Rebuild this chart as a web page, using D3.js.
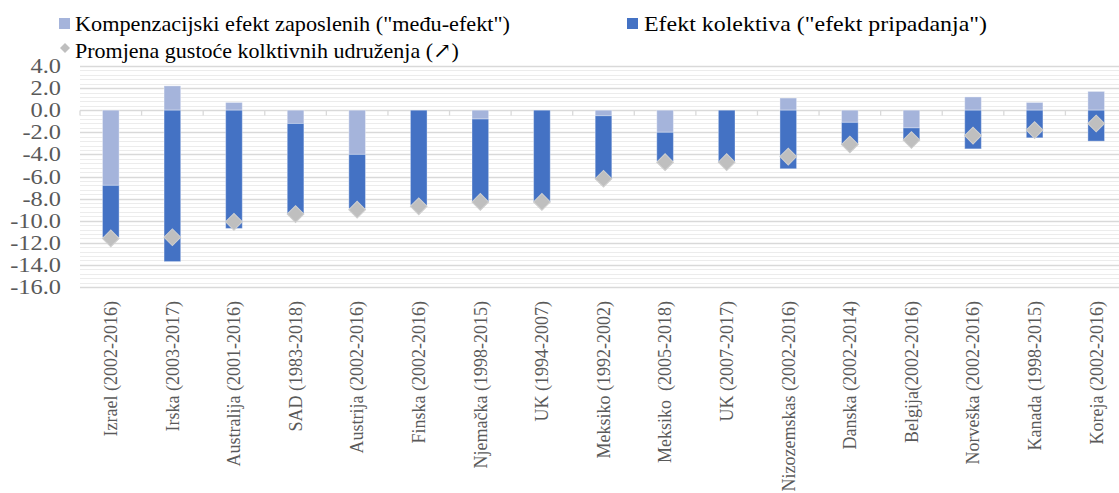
<!DOCTYPE html>
<meta charset="utf-8">
<style>
  body { margin: 0; background: #fff; }
</style>
<script src="https://d3js.org/d3.v7.min.js"></script>
<body>
<script>

var width = 1119,
    height = 493,
    fontFam = "'Liberation Serif', 'Times New Roman', Tinos, 'DejaVu Serif', serif";

// categories (x axis)
var categories = ["Izrael (2002-2016)", "Irska (2003-2017)", "Australija (2001-2016)", "SAD (1983-2018)",
  "Austrija (2002-2016)", "Finska (2002-2016)", "Njemačka (1998-2015)", "UK (1994-2007)",
  "Meksiko (1992-2002)", "Meksiko  (2005-2018)", "UK (2007-2017)", "Nizozemskas (2002-2016)",
  "Danska (2002-2014)", "Belgija(2002-2016)", "Norveška (2002-2016)", "Kanada (1998-2015)", "Koreja (2002-2016)"];

// light bars: "među-efekt"
var betweenEffect = [-6.8, 2.2, 0.7, -1.2, -4.0, 0.0, -0.8, 0.0, -0.5, -2.0, 0.0, 1.1, -1.1, -1.6, 1.2, 0.7, 1.7];
// dark bars: "efekt pripadanja"
var withinEffect = [-4.7, -13.7, -10.7, -8.2, -4.9, -8.6, -7.5, -8.3, -5.7, -2.6, -4.7, -5.3, -2.0, -1.1, -3.5, -2.5, -2.8];
// diamonds: total change
var totalChange = [-11.6, -11.5, -10.1, -9.4, -9.0, -8.7, -8.3, -8.3, -6.2, -4.7, -4.7, -4.2, -3.1, -2.7, -2.3, -1.8, -1.2];

var yTicks = [4, 2, 0, -2, -4, -6, -8, -10, -12, -14, -16];

var seriesNames = ["Kompenzacijski efekt zaposlenih (\"među-efekt\")",
                   "Efekt kolektiva (\"efekt pripadanja\")",
                   "Promjena gustoće kolktivnih udruženja (\u2197)"];
var colors = ["#a5b4db", "#4472c4", "#bfbfbf"];

var rows = categories.map(function(c, i) {
  return {cat: c, between: betweenEffect[i], within: withinEffect[i], total: totalChange[i]};
});

var x = d3.scaleBand().domain(categories).range([80, 1127]).padding(0);
var y = d3.scaleLinear().domain([-16, 4]).range([287, 66]);
var barW = x.bandwidth() * 0.27;

var svg = d3.select("body").append("svg")
    .attr("width", width)
    .attr("height", height)
    .attr("font-family", fontFam)
    .style("display", "block");

// minor grid
var minor = d3.range(-16, 4.001, 0.4).filter(function(v) {
  return Math.abs(v / 2 - Math.round(v / 2)) > 0.01;
});
svg.append("g").selectAll("line").data(minor).enter().append("line")
    .attr("x1", 80).attr("x2", width)
    .attr("y1", function(d) { return Math.round(y(d)) + 0.5; })
    .attr("y2", function(d) { return Math.round(y(d)) + 0.5; })
    .attr("stroke", "#ececec").attr("stroke-width", 1);

// major grid
svg.append("g").selectAll("line").data(yTicks.filter(function(d) { return d != 0; })).enter().append("line")
    .attr("x1", 80).attr("x2", width)
    .attr("y1", function(d) { return Math.round(y(d)) + 0.5; })
    .attr("y2", function(d) { return Math.round(y(d)) + 0.5; })
    .attr("stroke", "#d9d9d9").attr("stroke-width", 1.3);

// y labels (slightly wide lettering, as in the original)
svg.append("g").selectAll("text").data(yTicks).enter().append("text")
    .attr("transform", function(d) { return "translate(61," + y(d) + ") scale(1.22,1)"; })
    .attr("dy", "0.35em")
    .attr("text-anchor", "end")
    .attr("font-size", 20)
    .attr("fill", "#595959")
    .text(function(d) { return d.toFixed(1); });

// zero axis with ticks between categories
var zeroY = Math.round(y(0)) + 0.5;
svg.append("line")
    .attr("x1", 80).attr("x2", width)
    .attr("y1", zeroY).attr("y2", zeroY)
    .attr("stroke", "#d9d9d9").attr("stroke-width", 1.3);
svg.append("g").selectAll("line").data(d3.range(categories.length + 1)).enter().append("line")
    .attr("x1", function(i) { return 80 + i * x.step(); })
    .attr("x2", function(i) { return 80 + i * x.step(); })
    .attr("y1", zeroY).attr("y2", zeroY + 5)
    .attr("stroke", "#d9d9d9").attr("stroke-width", 1.3);

// stacked bars
var stack = d3.stack().keys(["between", "within"]).offset(d3.stackOffsetDiverging);
var layers = stack(rows);

svg.append("g").selectAll("g").data(layers).enter().append("g")
    .attr("fill", function(d, i) { return colors[i]; })
  .selectAll("rect").data(function(d) { return d; }).enter().append("rect")
    .attr("x", function(d) { return x(d.data.cat) + x.bandwidth() / 2 - barW / 2; })
    .attr("y", function(d) { return y(Math.max(d[0], d[1])); })
    .attr("width", barW)
    .attr("height", function(d) { return Math.abs(y(d[0]) - y(d[1])); })
    .attr("stroke", "#ffffff")
    .attr("stroke-opacity", 0.35)
    .attr("stroke-width", 1);

// diamonds
var diamond = d3.symbol().type(d3.symbolSquare).size(140);
svg.append("g").selectAll("path").data(rows).enter().append("path")
    .attr("d", diamond)
    .attr("transform", function(d) {
      return "translate(" + (x(d.cat) + x.bandwidth() / 2) + "," + y(d.total) + ") rotate(45)";
    })
    .attr("fill", colors[2])
    .attr("stroke", "#cfcfcf")
    .attr("stroke-width", 1);

// x labels
svg.append("g").selectAll("text").data(categories).enter().append("text")
    .attr("transform", function(d) {
      return "translate(" + (x(d) + x.bandwidth() / 2) + ",301) rotate(-90)";
    })
    .attr("dy", "0.35em")
    .attr("text-anchor", "end")
    .attr("font-size", 18)
    .attr("fill", "#595959")
    .style("white-space", "pre")
    .text(function(d) { return d; });

// legend
var legend = svg.append("g");
legend.append("rect").attr("x", 59).attr("y", 18).attr("width", 11).attr("height", 11).attr("fill", colors[0]);
legend.append("text").attr("x", 75).attr("y", 31).attr("font-size", 22).attr("fill", "#000")
    .attr("textLength", 435).attr("lengthAdjust", "spacingAndGlyphs").text(seriesNames[0]);
legend.append("rect").attr("x", 627).attr("y", 18).attr("width", 11).attr("height", 11).attr("fill", colors[1]);
legend.append("text").attr("x", 644).attr("y", 31).attr("font-size", 22).attr("fill", "#000")
    .attr("textLength", 343).attr("lengthAdjust", "spacingAndGlyphs").text(seriesNames[1]);
legend.append("path")
    .attr("d", d3.symbol().type(d3.symbolSquare).size(50))
    .attr("transform", "translate(65,48) rotate(45)")
    .attr("fill", colors[2]);
legend.append("text").attr("x", 75).attr("y", 58).attr("font-size", 22).attr("fill", "#000").text(seriesNames[2]);

</script>
</body>
